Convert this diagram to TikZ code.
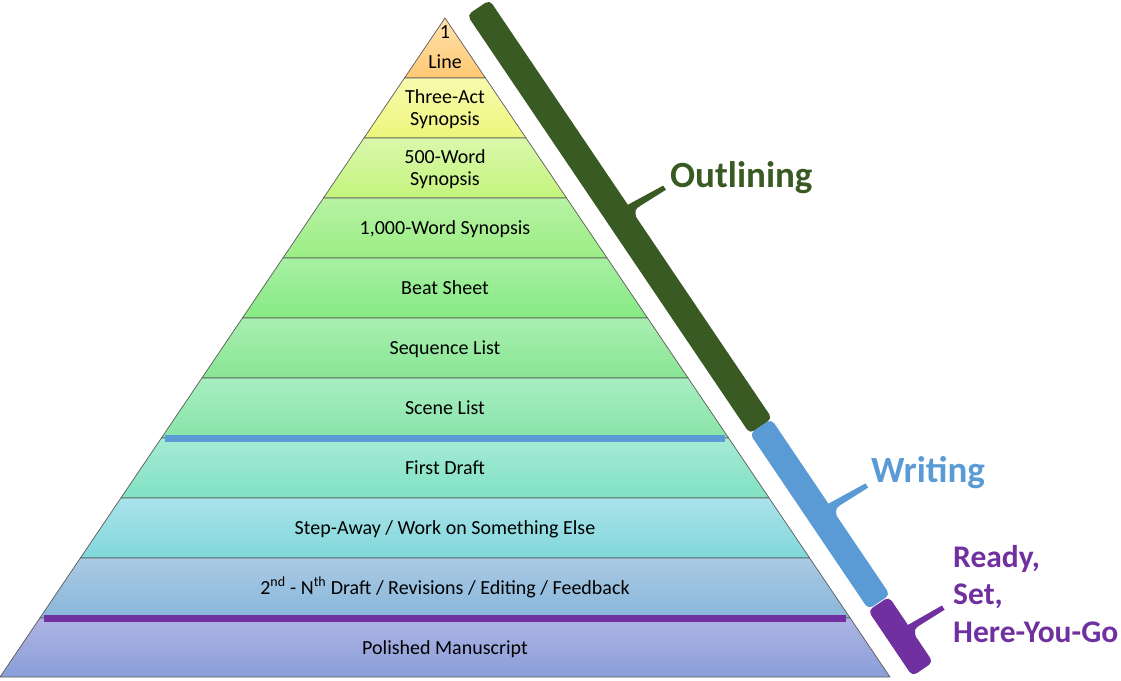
\documentclass[tikz,border=0pt]{standalone}
\usepackage{fontspec}
\setmainfont{Carlito}
\definecolor{c1t}{HTML}{FFE2AE}\definecolor{c1b}{HTML}{FFC872}
\definecolor{c2t}{HTML}{F8FAAE}\definecolor{c2b}{HTML}{EEF67C}
\definecolor{c3t}{HTML}{DAF8AC}\definecolor{c3b}{HTML}{C4F47C}
\definecolor{c4t}{HTML}{B6F2A2}\definecolor{c4b}{HTML}{9CEE86}
\definecolor{c5t}{HTML}{A8F0A4}\definecolor{c5b}{HTML}{86EA82}
\definecolor{c6t}{HTML}{A8EEB2}\definecolor{c6b}{HTML}{88E692}
\definecolor{c7t}{HTML}{A8EEC2}\definecolor{c7b}{HTML}{88E4A8}
\definecolor{c8t}{HTML}{A6EAD6}\definecolor{c8b}{HTML}{80E2C2}
\definecolor{c9t}{HTML}{AAE2EA}\definecolor{c9b}{HTML}{80D8DA}
\definecolor{c10t}{HTML}{AACAE4}\definecolor{c10b}{HTML}{88B6DA}
\definecolor{c11t}{HTML}{AEB4E4}\definecolor{c11b}{HTML}{8A9ED8}
\definecolor{outg}{HTML}{3A5A24}
\definecolor{wrib}{HTML}{5B9BD5}
\definecolor{rdyp}{HTML}{7030A0}
\definecolor{edgegray}{HTML}{5A5A5A}
\tikzset{
  layertext/.style={font=\fontsize{20}{22}\selectfont, text=black, inner sep=0pt, align=center},
  biglabel/.style={font=\bfseries\fontsize{37}{40}\selectfont, inner sep=0pt},
  midlabel/.style={font=\bfseries\fontsize{31.5}{37.5}\selectfont, inner sep=0pt, align=left},
  sepline/.style={line width=7pt}
}
\begin{document}
\begin{tikzpicture}[x=1pt,y=-1pt]
\useasboundingbox (0,0) rectangle (1121,680);
% layers
\foreach \t/\b/\ct/\cb in {18/78/c1t/c1b,78/138/c2t/c2b,138/198/c3t/c3b,198/258/c4t/c4b,258/318/c5t/c5b,318/378/c6t/c6b,378/438/c7t/c7b,438/498/c8t/c8b,498/558/c9t/c9b,558/618/c10t/c10b,618/677/c11t/c11b}{
  \pgfmathsetmacro\wt{0.67527*(\t-18)}
  \pgfmathsetmacro\wb{0.67527*(\b-18)}
  \shade[top color=\ct, bottom color=\cb] (445-\wt,\t) -- (445+\wt,\t) -- (445+\wb,\b) -- (445-\wb,\b) -- cycle;
  \draw[edgegray, line width=0.7pt, line join=round] (445-\wt,\t) -- (445+\wt,\t) -- (445+\wb,\b) -- (445-\wb,\b) -- cycle;
}
% separators
\draw[sepline, wrib] (165,438) -- (725,438);
\draw[sepline, rdyp] (44,618) -- (846,618);
% layer texts
\node[layertext] (t1) at (445,47) {1\\[8pt]Line};
\node[layertext] (t2) at (445,109) {Three-Act\\Synopsis};
\node[layertext] (t3) at (445,169) {500-Word\\Synopsis};
\node[layertext, anchor=base] (t4) at (445,234.5) {1,000-Word Synopsis};
\node[layertext, anchor=base] (t5) at (445,294.5) {Beat Sheet};
\node[layertext, anchor=base] (t6) at (445,354.5) {Sequence List};
\node[layertext, anchor=base] (t7) at (445,414.5) {Scene List};
\node[layertext, anchor=base] (t8) at (445,474.5) {First Draft};
\node[layertext, anchor=base] (t9) at (445,534.5) {Step-Away / Work on Something Else};
\node[layertext, anchor=base] (t10) at (445,594.5) {2\textsuperscript{nd} - N\textsuperscript{th} Draft / Revisions / Editing / Feedback};
\node[layertext, anchor=base] (t11) at (445,654.5) {Polished Manuscript};
% brackets
\begin{scope}[shift={(445,18)}, rotate=-55.97]
  \fill[outg, rounded corners=5pt] (10pt,20pt) rectangle (515pt,47pt);
  \fill[wrib, rounded corners=5pt] (515pt,20pt) rectangle (727pt,46pt);
  \fill[rdyp, rounded corners=5pt] (728pt,19pt) rectangle (807pt,44pt);
  \fill[outg] (257pt,46pt) -- (261pt,87pt) -- (266pt,87pt) -- (265pt,57pt) .. controls (265pt,50pt) .. (274pt,46pt) -- cycle;
  \fill[wrib] (617pt,45pt) -- (621pt,88pt) -- (626pt,88pt) -- (625pt,56pt) .. controls (625pt,49pt) .. (634pt,45pt) -- cycle;
  \fill[rdyp] (762pt,43pt) -- (765pt,83pt) -- (770pt,83pt) -- (769pt,54pt) .. controls (769pt,47pt) .. (778pt,43pt) -- cycle;
\end{scope}
% labels
\node[biglabel, text=outg, anchor=base west] (outl) at (670,187) {Outlining};
\node[biglabel, text=wrib, anchor=base west] (writ) at (871,482) {Writing};
\node[midlabel, text=rdyp, anchor=north west] (rdy) at (953,545) {Ready,\\Set,\\Here-You-Go};
\end{tikzpicture}
\end{document}
